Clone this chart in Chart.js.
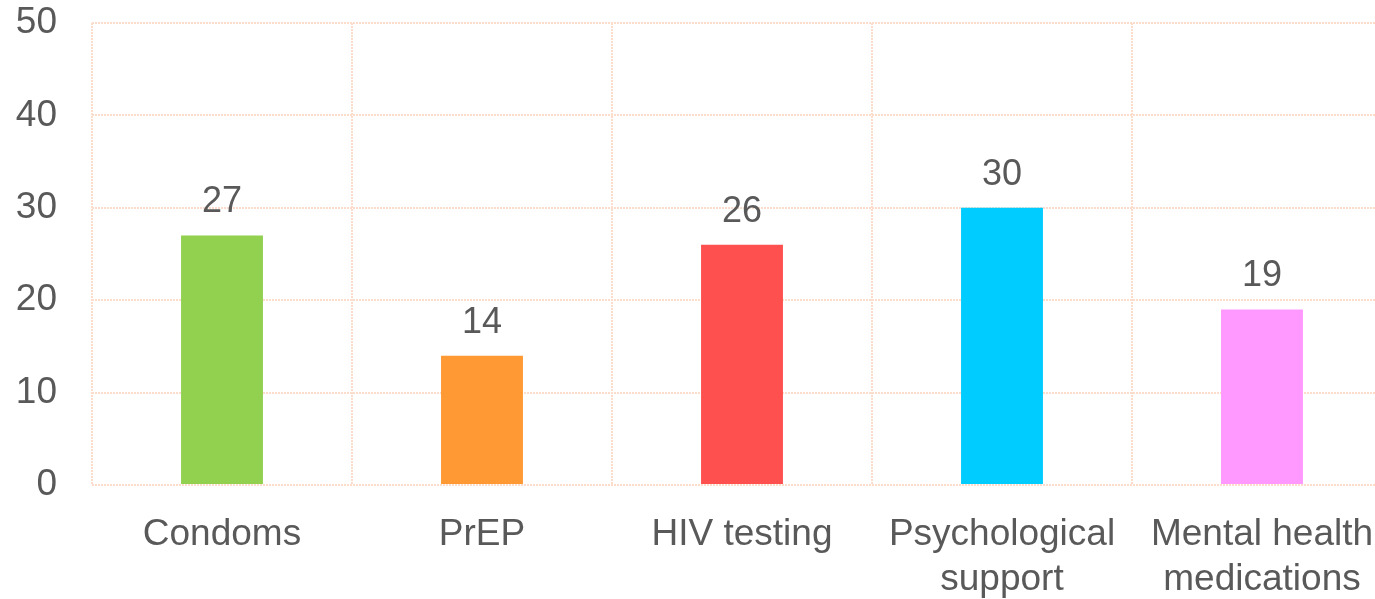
<!DOCTYPE html>
<html>
<head>
<meta charset="utf-8">
<script src="https://cdn.jsdelivr.net/npm/chart.js@4"></script>
<style>
    html, body { margin: 0; padding: 0; background: #fff; overflow: hidden; }
    #wrap { width: 1400px; height: 599px; position: relative; }
</style>
</head>
<body>
<div id="wrap"><canvas id="servicesChart"></canvas></div>
<script>
const categories = [
    "Condoms",
    ["PrEP"],
    "HIV testing",
    ["Psychological", "support"],
    ["Mental health", "medications"]
];
const counts = [27, 14, 26, 30, 19];
const barColors = ["#92D050", "#FF9933", "#FF5050", "#00CCFF", "#FF99FF"];
const yTicks = [0, 10, 20, 30, 40, 50];

const textColor = "#595959";
const gridColor = "#FCDDCB";
const fontFamily = "'Liberation Sans', Arial, sans-serif";

// draws the value above each bar
const valueLabels = {
    id: "valueLabels",
    afterDatasetsDraw(chart) {
        const ctx = chart.ctx;
        const meta = chart.getDatasetMeta(0);
        ctx.save();
        ctx.font = "36px " + fontFamily;
        ctx.fillStyle = textColor;
        ctx.textAlign = "center";
        ctx.textBaseline = "middle";
        meta.data.forEach((bar, i) => {
            ctx.fillText(String(counts[i]), bar.x, bar.y - 33);
        });
        ctx.restore();
    }
};

const ctx = document.getElementById("servicesChart").getContext("2d");
const chart = new Chart(ctx, {
    type: "bar",
    data: {
        labels: categories,
        datasets: [{
            data: counts,
            backgroundColor: barColors,
            categoryPercentage: 1,
            barPercentage: 0.315
        }]
    },
    options: {
        responsive: true,
        maintainAspectRatio: false,
        animation: false,
        layout: { padding: { top: 23, right: 8, left: 0, bottom: 0 } },
        plugins: {
            legend: { display: false },
            tooltip: { enabled: false }
        },
        scales: {
            x: {
                grid: {
                    color: gridColor,
                    lineWidth: 2,
                    offset: true,
                    drawTicks: false
                },
                border: { display: false, dash: [2, 1] },
                ticks: {
                    color: textColor,
                    font: { family: fontFamily, size: 37, lineHeight: 1.22 },
                    padding: 27,
                    maxRotation: 0,
                    autoSkip: false
                },
                afterFit: scale => {
                    scale.height = 114;
                    scale.paddingLeft = 0;
                    scale.paddingRight = 0;
                }
            },
            y: {
                min: 0,
                max: 50,
                afterBuildTicks: scale => {
                    scale.ticks = yTicks.map(v => ({ value: v }));
                },
                grid: {
                    color: gridColor,
                    lineWidth: 2,
                    drawTicks: false
                },
                border: { display: false, dash: [2, 1] },
                ticks: {
                    color: textColor,
                    font: { family: fontFamily, size: 37 },
                    padding: 35
                },
                afterFit: scale => {
                    scale.width = 92;
                    scale.paddingTop = 0;
                    scale.paddingBottom = 0;
                }
            }
        }
    },
    plugins: [valueLabels]
});
</script>
</body>
</html>
